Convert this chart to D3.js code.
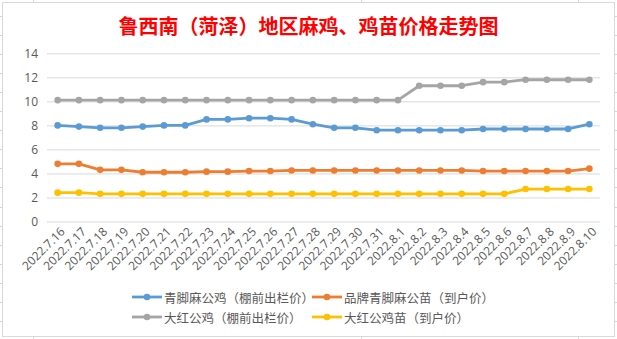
<!DOCTYPE html>
<html><head><meta charset="utf-8">
<script src="https://cdn.jsdelivr.net/npm/d3@7/dist/d3.min.js"></script>
<style>
html,body{margin:0;padding:0;background:#fff;}
svg{display:block;}
text{font-family:"Noto Sans CJK SC","Microsoft YaHei",sans-serif;}
</style></head>
<body><svg id="c" width="617" height="339"></svg>
<script>
const title = "鲁西南（菏泽）地区麻鸡、鸡苗价格走势图";
const dates = ["2022.7.16","2022.7.17","2022.7.18","2022.7.19","2022.7.20","2022.7.21","2022.7.22","2022.7.23","2022.7.24","2022.7.25","2022.7.26","2022.7.27","2022.7.28","2022.7.29","2022.7.30","2022.7.31","2022.8.1","2022.8.2","2022.8.3","2022.8.4","2022.8.5","2022.8.6","2022.8.7","2022.8.8","2022.8.9","2022.8.10"];
const seriesNames = ["青脚麻公鸡（棚前出栏价）","品牌青脚麻公苗（到户价）","大红公鸡（棚前出栏价）","大红公鸡苗（到户价）"];
const qingjiao = [8.0,7.9,7.8,7.8,7.9,8.0,8.0,8.5,8.5,8.6,8.6,8.5,8.1,7.8,7.8,7.6,7.6,7.6,7.6,7.6,7.7,7.7,7.7,7.7,7.7,8.1];
const pinpaiMiao = [4.8,4.8,4.3,4.3,4.1,4.1,4.1,4.15,4.15,4.2,4.2,4.25,4.25,4.25,4.25,4.25,4.25,4.25,4.25,4.25,4.2,4.2,4.2,4.2,4.2,4.4];
const dahong = [10.1,10.1,10.1,10.1,10.1,10.1,10.1,10.1,10.1,10.1,10.1,10.1,10.1,10.1,10.1,10.1,10.1,11.3,11.3,11.3,11.6,11.6,11.8,11.8,11.8,11.8];
const dahongMiao = [2.4,2.4,2.3,2.3,2.3,2.3,2.3,2.3,2.3,2.3,2.3,2.3,2.3,2.3,2.3,2.3,2.3,2.3,2.3,2.3,2.3,2.3,2.7,2.7,2.7,2.7];
const yTicks = [0,2,4,6,8,10,12,14];
const colors = ["#5B9BD5","#ED7D31","#A5A5A5","#FFC000"];
const allSeries = [qingjiao, pinpaiMiao, dahong, dahongMiao];

const svg = d3.select("#c");

// spreadsheet background cell lines
const cellRows = d3.range(0, 18).map(k => 16 + 19.05 * k);
const cellCols = [33, 361, 578];
const bg = svg.append("g").attr("stroke", "#d4d6e2").attr("stroke-width", 1);
cellRows.forEach(y => bg.append("line").attr("x1", 0).attr("x2", 617).attr("y1", Math.round(y) + 0.5).attr("y2", Math.round(y) + 0.5));
cellCols.forEach(x => bg.append("line").attr("x1", x + 0.5).attr("x2", x + 0.5).attr("y1", 0).attr("y2", 339));

// chart area
svg.append("rect").attr("x", 2.5).attr("y", 2.5).attr("width", 612).attr("height", 334)
  .attr("fill", "#fff").attr("stroke", "#d9d9d9");

svg.append("text").attr("x", 308.5).attr("y", 25).attr("text-anchor", "middle")
  .attr("dominant-baseline", "central").attr("fill", "#FF0000")
  .attr("font-size", 20).attr("font-weight", 700).text(title);

const x = d3.scaleBand().domain(dates).range([47, 600]).padding(0);
const y = d3.scaleLinear().domain([0, 14]).range([221.5, 53.3]);

// grid + y axis
const ya = svg.append("g").attr("transform", "translate(47,0)")
  .call(d3.axisLeft(y).tickValues(yTicks).tickSize(-553).tickPadding(9).tickFormat(d3.format("d")));
ya.select(".domain").remove();
ya.selectAll(".tick line").attr("stroke", "#d9d9d9");
ya.selectAll(".tick text").attr("fill", "#595959").attr("font-size", 12)
  .style("font-family", "'Open Sans','Liberation Sans',sans-serif");

// x axis labels
const xa = svg.append("g").attr("transform", "translate(0,221.5)")
  .call(d3.axisBottom(x).tickSize(0).tickPadding(0));
xa.select(".domain").remove();
xa.selectAll(".tick text")
  .attr("fill", "#595959").attr("font-size", 12)
  .style("font-family", "'Open Sans','Liberation Sans',sans-serif")
  .attr("text-anchor", "end")
  .attr("transform", "translate(5,8) rotate(-45)")
  .attr("dy", "0.35em").attr("y", 0).attr("x", 0);

const cx = d => x(d) + x.bandwidth() / 2;
const line = d3.line().x((d, i) => cx(dates[i])).y(d => y(d));

allSeries.forEach((s, k) => {
  const g = svg.append("g");
  g.append("path").datum(s).attr("d", line).attr("fill", "none")
    .attr("stroke", colors[k]).attr("stroke-width", 2.8).attr("stroke-linejoin", "round");
  g.selectAll("circle").data(s).join("circle")
    .attr("cx", (d, i) => cx(dates[i])).attr("cy", d => y(d)).attr("r", 3.3)
    .attr("fill", colors[k]);
});

// legend
const legPos = [[132, 297], [312, 297], [132, 317], [312, 317]];
seriesNames.forEach((n, k) => {
  const [lx, ly] = legPos[k];
  const g = svg.append("g");
  g.append("line").attr("x1", lx).attr("x2", lx + 30).attr("y1", ly).attr("y2", ly)
    .attr("stroke", colors[k]).attr("stroke-width", 2.8);
  g.append("circle").attr("cx", lx + 15).attr("cy", ly).attr("r", 3.3).attr("fill", colors[k]);
  g.append("text").attr("x", lx + 32).attr("y", ly).attr("dominant-baseline", "central")
    .attr("fill", "#595959").attr("font-size", 12.5).text(n);
});
</script></body></html>
